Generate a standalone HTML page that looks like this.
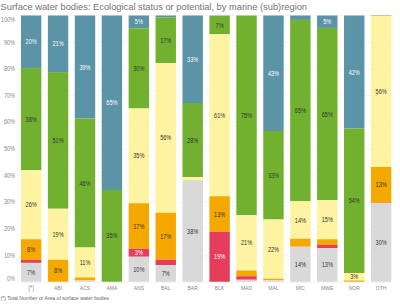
<!DOCTYPE html><html><head><meta charset="utf-8"><style>html,body{margin:0;padding:0;background:#fff;width:400px;height:304px;overflow:hidden}svg{display:block;font-family:"Liberation Sans",sans-serif}</style></head><body>
<svg width="400" height="304" viewBox="0 0 400 304">
<text x="0.6" y="9.8" font-size="9.3" fill="#737373">Surface water bodies: Ecological status or potential, by marine (sub)region</text>
<line x1="17.5" x2="394" y1="15.60" y2="15.60" stroke="#f5f5f5" stroke-width="1"/>
<line x1="17.5" x2="394" y1="42.30" y2="42.30" stroke="#f5f5f5" stroke-width="1"/>
<line x1="17.5" x2="394" y1="69.00" y2="69.00" stroke="#f5f5f5" stroke-width="1"/>
<line x1="17.5" x2="394" y1="95.70" y2="95.70" stroke="#f5f5f5" stroke-width="1"/>
<line x1="17.5" x2="394" y1="122.40" y2="122.40" stroke="#f5f5f5" stroke-width="1"/>
<line x1="17.5" x2="394" y1="149.10" y2="149.10" stroke="#f5f5f5" stroke-width="1"/>
<line x1="17.5" x2="394" y1="175.80" y2="175.80" stroke="#f5f5f5" stroke-width="1"/>
<line x1="17.5" x2="394" y1="202.50" y2="202.50" stroke="#f5f5f5" stroke-width="1"/>
<line x1="17.5" x2="394" y1="229.20" y2="229.20" stroke="#f5f5f5" stroke-width="1"/>
<line x1="17.5" x2="394" y1="255.90" y2="255.90" stroke="#f5f5f5" stroke-width="1"/>
<line x1="17.5" x2="394" y1="282.60" y2="282.60" stroke="#f5f5f5" stroke-width="1"/>
<line x1="17.5" x2="17.5" y1="15.5" y2="282.25" stroke="#f8f8f8" stroke-width="1"/>
<text x="15" y="21.80" font-size="6.6" fill="#888" text-anchor="end" transform="translate(15,0) scale(0.84,1) translate(-15,0)">100%</text>
<text x="15" y="44.52" font-size="6.6" fill="#888" text-anchor="end" transform="translate(15,0) scale(0.84,1) translate(-15,0)">90%</text>
<text x="15" y="71.15" font-size="6.6" fill="#888" text-anchor="end" transform="translate(15,0) scale(0.84,1) translate(-15,0)">80%</text>
<text x="15" y="97.78" font-size="6.6" fill="#888" text-anchor="end" transform="translate(15,0) scale(0.84,1) translate(-15,0)">70%</text>
<text x="15" y="124.40" font-size="6.6" fill="#888" text-anchor="end" transform="translate(15,0) scale(0.84,1) translate(-15,0)">60%</text>
<text x="15" y="151.03" font-size="6.6" fill="#888" text-anchor="end" transform="translate(15,0) scale(0.84,1) translate(-15,0)">50%</text>
<text x="15" y="177.65" font-size="6.6" fill="#888" text-anchor="end" transform="translate(15,0) scale(0.84,1) translate(-15,0)">40%</text>
<text x="15" y="204.28" font-size="6.6" fill="#888" text-anchor="end" transform="translate(15,0) scale(0.84,1) translate(-15,0)">30%</text>
<text x="15" y="230.90" font-size="6.6" fill="#888" text-anchor="end" transform="translate(15,0) scale(0.84,1) translate(-15,0)">20%</text>
<text x="15" y="257.52" font-size="6.6" fill="#888" text-anchor="end" transform="translate(15,0) scale(0.84,1) translate(-15,0)">10%</text>
<text x="15" y="281.40" font-size="6.6" fill="#888" text-anchor="end" transform="translate(15,0) scale(0.84,1) translate(-15,0)">0%</text>
<rect x="20.95" y="15.50" width="20.4" height="52.60" fill="#5b93a7"/>
<rect x="20.95" y="68.10" width="20.4" height="102.15" fill="#72b02f"/>
<rect x="20.95" y="170.25" width="20.4" height="69.00" fill="#fdf3a0"/>
<rect x="20.95" y="239.25" width="20.4" height="20.75" fill="#f5a800"/>
<rect x="20.95" y="260.00" width="20.4" height="2.90" fill="#e63d5c"/>
<rect x="20.95" y="262.90" width="20.4" height="18.85" fill="#d9d9d9"/>
<text x="31.15" y="44" font-size="6.4" fill="#fff" text-anchor="middle" transform="translate(31.15,0) scale(0.87,1) translate(-31.15,0)">20%</text>
<text x="31.15" y="122" font-size="6.4" fill="#333" text-anchor="middle" transform="translate(31.15,0) scale(0.87,1) translate(-31.15,0)">38%</text>
<text x="31.15" y="207" font-size="6.4" fill="#333" text-anchor="middle" transform="translate(31.15,0) scale(0.87,1) translate(-31.15,0)">26%</text>
<text x="31.15" y="252" font-size="6.4" fill="#333" text-anchor="middle" transform="translate(31.15,0) scale(0.87,1) translate(-31.15,0)">8%</text>
<text x="31.15" y="275" font-size="6.4" fill="#333" text-anchor="middle" transform="translate(31.15,0) scale(0.87,1) translate(-31.15,0)">7%</text>
<text x="31.15" y="290.1" font-size="7" fill="#888" text-anchor="middle" transform="translate(31.15,0) scale(0.78,1) translate(-31.15,0)">(*)</text>
<rect x="47.87" y="15.50" width="20.4" height="56.60" fill="#5b93a7"/>
<rect x="47.87" y="72.10" width="20.4" height="136.65" fill="#72b02f"/>
<rect x="47.87" y="208.75" width="20.4" height="51.00" fill="#fdf3a0"/>
<rect x="47.87" y="259.75" width="20.4" height="22.00" fill="#f5a800"/>
<text x="58.07" y="46" font-size="6.4" fill="#fff" text-anchor="middle" transform="translate(58.07,0) scale(0.87,1) translate(-58.07,0)">21%</text>
<text x="58.07" y="143" font-size="6.4" fill="#333" text-anchor="middle" transform="translate(58.07,0) scale(0.87,1) translate(-58.07,0)">51%</text>
<text x="58.07" y="237" font-size="6.4" fill="#333" text-anchor="middle" transform="translate(58.07,0) scale(0.87,1) translate(-58.07,0)">19%</text>
<text x="58.07" y="273" font-size="6.4" fill="#333" text-anchor="middle" transform="translate(58.07,0) scale(0.87,1) translate(-58.07,0)">8%</text>
<text x="58.07" y="290.4" font-size="6" fill="#888" text-anchor="middle" transform="translate(58.07,0) scale(0.84,1) translate(-58.07,0)">ABI</text>
<rect x="74.80" y="15.50" width="20.4" height="103.00" fill="#5b93a7"/>
<rect x="74.80" y="118.50" width="20.4" height="129.00" fill="#72b02f"/>
<rect x="74.80" y="247.50" width="20.4" height="30.00" fill="#fdf3a0"/>
<rect x="74.80" y="277.50" width="20.4" height="3.00" fill="#f5a800"/>
<rect x="74.80" y="280.50" width="20.4" height="1.25" fill="#d9d9d9"/>
<text x="85.00" y="70" font-size="6.4" fill="#fff" text-anchor="middle" transform="translate(85.00,0) scale(0.87,1) translate(-85.00,0)">39%</text>
<text x="85.00" y="186" font-size="6.4" fill="#333" text-anchor="middle" transform="translate(85.00,0) scale(0.87,1) translate(-85.00,0)">46%</text>
<text x="85.00" y="265" font-size="6.4" fill="#333" text-anchor="middle" transform="translate(85.00,0) scale(0.87,1) translate(-85.00,0)">11%</text>
<text x="85.00" y="290.4" font-size="6" fill="#888" text-anchor="middle" transform="translate(85.00,0) scale(0.84,1) translate(-85.00,0)">ACS</text>
<rect x="101.72" y="15.50" width="20.4" height="174.50" fill="#5b93a7"/>
<rect x="101.72" y="190.00" width="20.4" height="91.75" fill="#72b02f"/>
<text x="111.92" y="105" font-size="6.4" fill="#fff" text-anchor="middle" transform="translate(111.92,0) scale(0.87,1) translate(-111.92,0)">65%</text>
<text x="111.92" y="238" font-size="6.4" fill="#333" text-anchor="middle" transform="translate(111.92,0) scale(0.87,1) translate(-111.92,0)">35%</text>
<text x="111.92" y="290.4" font-size="6" fill="#888" text-anchor="middle" transform="translate(111.92,0) scale(0.84,1) translate(-111.92,0)">AMA</text>
<rect x="128.64" y="15.50" width="20.4" height="12.80" fill="#5b93a7"/>
<rect x="128.64" y="28.30" width="20.4" height="80.20" fill="#72b02f"/>
<rect x="128.64" y="108.50" width="20.4" height="94.75" fill="#fdf3a0"/>
<rect x="128.64" y="203.25" width="20.4" height="45.50" fill="#f5a800"/>
<rect x="128.64" y="248.75" width="20.4" height="8.00" fill="#e63d5c"/>
<rect x="128.64" y="256.75" width="20.4" height="25.00" fill="#d9d9d9"/>
<text x="138.84" y="24" font-size="6.4" fill="#fff" text-anchor="middle" transform="translate(138.84,0) scale(0.87,1) translate(-138.84,0)">5%</text>
<text x="138.84" y="71" font-size="6.4" fill="#333" text-anchor="middle" transform="translate(138.84,0) scale(0.87,1) translate(-138.84,0)">30%</text>
<text x="138.84" y="158" font-size="6.4" fill="#333" text-anchor="middle" transform="translate(138.84,0) scale(0.87,1) translate(-138.84,0)">35%</text>
<text x="138.84" y="229" font-size="6.4" fill="#333" text-anchor="middle" transform="translate(138.84,0) scale(0.87,1) translate(-138.84,0)">17%</text>
<text x="138.84" y="255" font-size="6.4" fill="#fff" text-anchor="middle" transform="translate(138.84,0) scale(0.87,1) translate(-138.84,0)">3%</text>
<text x="138.84" y="272" font-size="6.4" fill="#333" text-anchor="middle" transform="translate(138.84,0) scale(0.87,1) translate(-138.84,0)">10%</text>
<text x="138.84" y="290.4" font-size="6" fill="#888" text-anchor="middle" transform="translate(138.84,0) scale(0.84,1) translate(-138.84,0)">ANS</text>
<rect x="155.56" y="15.50" width="20.4" height="1.90" fill="#5b93a7"/>
<rect x="155.56" y="17.40" width="20.4" height="45.60" fill="#72b02f"/>
<rect x="155.56" y="63.00" width="20.4" height="149.75" fill="#fdf3a0"/>
<rect x="155.56" y="212.75" width="20.4" height="47.00" fill="#f5a800"/>
<rect x="155.56" y="259.75" width="20.4" height="5.25" fill="#e63d5c"/>
<rect x="155.56" y="265.00" width="20.4" height="16.75" fill="#d9d9d9"/>
<text x="165.76" y="43" font-size="6.4" fill="#333" text-anchor="middle" transform="translate(165.76,0) scale(0.87,1) translate(-165.76,0)">17%</text>
<text x="165.76" y="140" font-size="6.4" fill="#333" text-anchor="middle" transform="translate(165.76,0) scale(0.87,1) translate(-165.76,0)">56%</text>
<text x="165.76" y="239" font-size="6.4" fill="#333" text-anchor="middle" transform="translate(165.76,0) scale(0.87,1) translate(-165.76,0)">17%</text>
<text x="165.76" y="276" font-size="6.4" fill="#333" text-anchor="middle" transform="translate(165.76,0) scale(0.87,1) translate(-165.76,0)">7%</text>
<text x="165.76" y="290.4" font-size="6" fill="#888" text-anchor="middle" transform="translate(165.76,0) scale(0.84,1) translate(-165.76,0)">BAL</text>
<rect x="182.49" y="15.50" width="20.4" height="87.50" fill="#5b93a7"/>
<rect x="182.49" y="103.00" width="20.4" height="74.00" fill="#72b02f"/>
<rect x="182.49" y="177.00" width="20.4" height="3.00" fill="#fdf3a0"/>
<rect x="182.49" y="180.00" width="20.4" height="0.40" fill="#f5a800"/>
<rect x="182.49" y="180.40" width="20.4" height="101.35" fill="#d9d9d9"/>
<text x="192.69" y="62" font-size="6.4" fill="#fff" text-anchor="middle" transform="translate(192.69,0) scale(0.87,1) translate(-192.69,0)">33%</text>
<text x="192.69" y="143" font-size="6.4" fill="#333" text-anchor="middle" transform="translate(192.69,0) scale(0.87,1) translate(-192.69,0)">28%</text>
<text x="192.69" y="234" font-size="6.4" fill="#333" text-anchor="middle" transform="translate(192.69,0) scale(0.87,1) translate(-192.69,0)">38%</text>
<text x="192.69" y="290.4" font-size="6" fill="#888" text-anchor="middle" transform="translate(192.69,0) scale(0.84,1) translate(-192.69,0)">BAR</text>
<rect x="209.41" y="15.50" width="20.4" height="0.30" fill="#5b93a7"/>
<rect x="209.41" y="15.80" width="20.4" height="18.45" fill="#72b02f"/>
<rect x="209.41" y="34.25" width="20.4" height="162.00" fill="#fdf3a0"/>
<rect x="209.41" y="196.25" width="20.4" height="35.50" fill="#f5a800"/>
<rect x="209.41" y="231.75" width="20.4" height="50.00" fill="#e63d5c"/>
<text x="219.61" y="28" font-size="6.4" fill="#333" text-anchor="middle" transform="translate(219.61,0) scale(0.87,1) translate(-219.61,0)">7%</text>
<text x="219.61" y="118" font-size="6.4" fill="#333" text-anchor="middle" transform="translate(219.61,0) scale(0.87,1) translate(-219.61,0)">61%</text>
<text x="219.61" y="217" font-size="6.4" fill="#333" text-anchor="middle" transform="translate(219.61,0) scale(0.87,1) translate(-219.61,0)">13%</text>
<text x="219.61" y="259" font-size="6.4" fill="#fff" text-anchor="middle" transform="translate(219.61,0) scale(0.87,1) translate(-219.61,0)">19%</text>
<text x="219.61" y="290.4" font-size="6" fill="#888" text-anchor="middle" transform="translate(219.61,0) scale(0.84,1) translate(-219.61,0)">BLK</text>
<rect x="236.33" y="15.50" width="20.4" height="199.75" fill="#72b02f"/>
<rect x="236.33" y="215.25" width="20.4" height="55.25" fill="#fdf3a0"/>
<rect x="236.33" y="270.50" width="20.4" height="5.75" fill="#f5a800"/>
<rect x="236.33" y="276.25" width="20.4" height="3.50" fill="#e63d5c"/>
<rect x="236.33" y="279.75" width="20.4" height="2.00" fill="#d9d9d9"/>
<text x="246.53" y="118" font-size="6.4" fill="#333" text-anchor="middle" transform="translate(246.53,0) scale(0.87,1) translate(-246.53,0)">75%</text>
<text x="246.53" y="245" font-size="6.4" fill="#333" text-anchor="middle" transform="translate(246.53,0) scale(0.87,1) translate(-246.53,0)">21%</text>
<text x="246.53" y="290.4" font-size="6" fill="#888" text-anchor="middle" transform="translate(246.53,0) scale(0.84,1) translate(-246.53,0)">MAD</text>
<rect x="263.26" y="15.50" width="20.4" height="115.50" fill="#5b93a7"/>
<rect x="263.26" y="131.00" width="20.4" height="88.50" fill="#72b02f"/>
<rect x="263.26" y="219.50" width="20.4" height="59.25" fill="#fdf3a0"/>
<rect x="263.26" y="278.75" width="20.4" height="1.50" fill="#f5a800"/>
<rect x="263.26" y="280.25" width="20.4" height="1.50" fill="#d9d9d9"/>
<text x="273.46" y="76" font-size="6.4" fill="#fff" text-anchor="middle" transform="translate(273.46,0) scale(0.87,1) translate(-273.46,0)">43%</text>
<text x="273.46" y="178" font-size="6.4" fill="#333" text-anchor="middle" transform="translate(273.46,0) scale(0.87,1) translate(-273.46,0)">33%</text>
<text x="273.46" y="252" font-size="6.4" fill="#333" text-anchor="middle" transform="translate(273.46,0) scale(0.87,1) translate(-273.46,0)">22%</text>
<text x="273.46" y="290.4" font-size="6" fill="#888" text-anchor="middle" transform="translate(273.46,0) scale(0.84,1) translate(-273.46,0)">MAL</text>
<rect x="290.18" y="15.50" width="20.4" height="4.40" fill="#5b93a7"/>
<rect x="290.18" y="19.90" width="20.4" height="181.35" fill="#72b02f"/>
<rect x="290.18" y="201.25" width="20.4" height="37.50" fill="#fdf3a0"/>
<rect x="290.18" y="238.75" width="20.4" height="8.00" fill="#f5a800"/>
<rect x="290.18" y="246.75" width="20.4" height="35.00" fill="#d9d9d9"/>
<text x="300.38" y="113" font-size="6.4" fill="#333" text-anchor="middle" transform="translate(300.38,0) scale(0.87,1) translate(-300.38,0)">65%</text>
<text x="300.38" y="223" font-size="6.4" fill="#333" text-anchor="middle" transform="translate(300.38,0) scale(0.87,1) translate(-300.38,0)">14%</text>
<text x="300.38" y="267" font-size="6.4" fill="#333" text-anchor="middle" transform="translate(300.38,0) scale(0.87,1) translate(-300.38,0)">14%</text>
<text x="300.38" y="290.4" font-size="6" fill="#888" text-anchor="middle" transform="translate(300.38,0) scale(0.84,1) translate(-300.38,0)">MIC</text>
<rect x="317.10" y="15.50" width="20.4" height="12.40" fill="#5b93a7"/>
<rect x="317.10" y="27.90" width="20.4" height="172.10" fill="#72b02f"/>
<rect x="317.10" y="200.00" width="20.4" height="39.25" fill="#fdf3a0"/>
<rect x="317.10" y="239.25" width="20.4" height="5.75" fill="#f5a800"/>
<rect x="317.10" y="245.00" width="20.4" height="3.00" fill="#e63d5c"/>
<rect x="317.10" y="248.00" width="20.4" height="33.75" fill="#d9d9d9"/>
<text x="327.30" y="24" font-size="6.4" fill="#fff" text-anchor="middle" transform="translate(327.30,0) scale(0.87,1) translate(-327.30,0)">5%</text>
<text x="327.30" y="117" font-size="6.4" fill="#333" text-anchor="middle" transform="translate(327.30,0) scale(0.87,1) translate(-327.30,0)">65%</text>
<text x="327.30" y="222" font-size="6.4" fill="#333" text-anchor="middle" transform="translate(327.30,0) scale(0.87,1) translate(-327.30,0)">15%</text>
<text x="327.30" y="267" font-size="6.4" fill="#333" text-anchor="middle" transform="translate(327.30,0) scale(0.87,1) translate(-327.30,0)">13%</text>
<text x="327.30" y="290.4" font-size="6" fill="#888" text-anchor="middle" transform="translate(327.30,0) scale(0.84,1) translate(-327.30,0)">MWE</text>
<rect x="344.03" y="15.50" width="20.4" height="113.00" fill="#5b93a7"/>
<rect x="344.03" y="128.50" width="20.4" height="144.50" fill="#72b02f"/>
<rect x="344.03" y="273.00" width="20.4" height="7.50" fill="#fdf3a0"/>
<rect x="344.03" y="280.50" width="20.4" height="1.25" fill="#f5a800"/>
<text x="354.23" y="75" font-size="6.4" fill="#fff" text-anchor="middle" transform="translate(354.23,0) scale(0.87,1) translate(-354.23,0)">42%</text>
<text x="354.23" y="203" font-size="6.4" fill="#333" text-anchor="middle" transform="translate(354.23,0) scale(0.87,1) translate(-354.23,0)">54%</text>
<text x="354.23" y="279" font-size="6.4" fill="#333" text-anchor="middle" transform="translate(354.23,0) scale(0.87,1) translate(-354.23,0)">3%</text>
<text x="354.23" y="290.4" font-size="6" fill="#888" text-anchor="middle" transform="translate(354.23,0) scale(0.84,1) translate(-354.23,0)">NOR</text>
<rect x="370.95" y="15.50" width="20.4" height="0.50" fill="#72b02f"/>
<rect x="370.95" y="16.00" width="20.4" height="151.00" fill="#fdf3a0"/>
<rect x="370.95" y="167.00" width="20.4" height="35.75" fill="#f5a800"/>
<rect x="370.95" y="202.75" width="20.4" height="0.45" fill="#e63d5c"/>
<rect x="370.95" y="203.20" width="20.4" height="78.55" fill="#d9d9d9"/>
<text x="381.15" y="94" font-size="6.4" fill="#333" text-anchor="middle" transform="translate(381.15,0) scale(0.87,1) translate(-381.15,0)">56%</text>
<text x="381.15" y="187" font-size="6.4" fill="#333" text-anchor="middle" transform="translate(381.15,0) scale(0.87,1) translate(-381.15,0)">13%</text>
<text x="381.15" y="245" font-size="6.4" fill="#333" text-anchor="middle" transform="translate(381.15,0) scale(0.87,1) translate(-381.15,0)">30%</text>
<text x="381.15" y="290.4" font-size="6" fill="#888" text-anchor="middle" transform="translate(381.15,0) scale(0.84,1) translate(-381.15,0)">OTH</text>
<text x="0.5" y="300.5" font-size="6" fill="#666" transform="translate(0.5,0) scale(0.85,1) translate(-0.5,0)">(*) Total Number or Area of surface water bodies</text>
</svg></body></html>
